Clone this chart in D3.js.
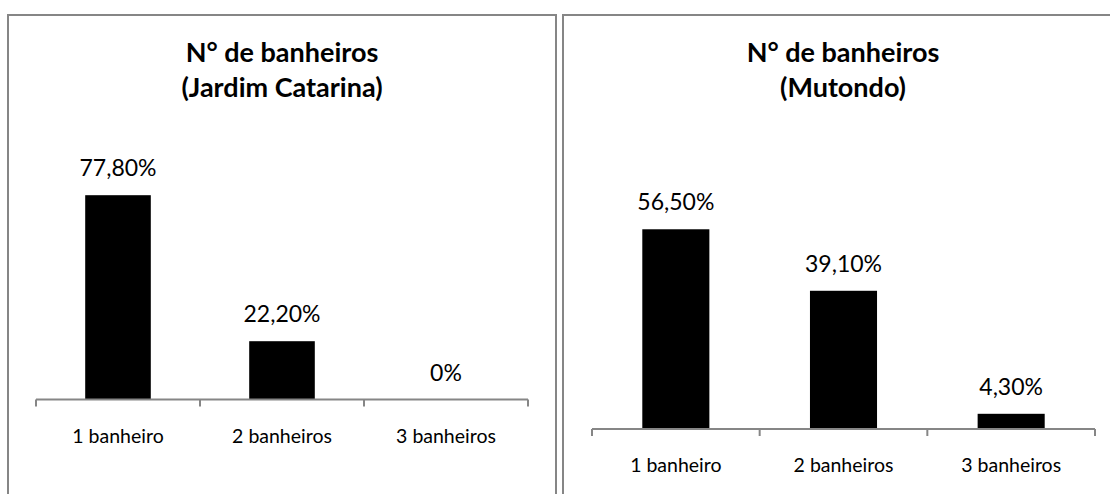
<!DOCTYPE html>
<html>
<head>
<meta charset="utf-8">
<script src="https://cdn.jsdelivr.net/npm/d3@7"></script>
<style>
  html, body { margin: 0; padding: 0; background: white; }
  svg { display: block; }
</style>
</head>
<body>
<div id="chart"></div>
<script>
// data
var categories = [ "1 banheiro", "2 banheiros", "3 banheiros" ];
var jardimValues = [ 77.8, 22.2, 0 ];
var mutondoValues = [ 56.5, 39.1, 4.3 ];
var jardimTitle = [ "N° de banheiros", "(Jardim Catarina)" ];
var mutondoTitle = [ "N° de banheiros", "(Mutondo)" ];

var W = 1110;
var H = 494;
var FONT = "Lato, 'Open Sans', sans-serif";
var AXIS_COLOR = "#868686";
var BORDER_COLOR = "#868686";

var ptLocale = d3.formatLocale({
  "decimal": ",",
  "thousands": ".",
  "grouping": [3],
  "currency": ["R$", ""],
});
var fmt2 = ptLocale.format(".2f");
function pctLabel(v) {
  return v === 0 ? "0%" : fmt2(v) + "%";
} // pctLabel

var svg = d3.select("#chart").append("svg")
  .attr("width", W)
  .attr("height", H);

var panels = [
  {
    "title": jardimTitle,
    "values": jardimValues,
    "box": [ 8, 15, 548, 520 ],
    "axisX": [ 36, 528 ],
    "axisY": 399.5,
    "full": 262.6, // height of 100%
  },
  {
    "title": mutondoTitle,
    "values": mutondoValues,
    "box": [ 563, 15, 560, 520 ],
    "axisX": [ 592, 1095 ],
    "axisY": 429,
    "full": 353.5,
  },
];

function addPanel(p) {
  var g = svg.append("g");
  var bx = p.box[0], by = p.box[1], bw = p.box[2], bh = p.box[3];

  g.append("rect").attr("x", bx).attr("y", by)
    .attr("width", bw).attr("height", bh)
    .attr("fill", "white")
    .attr("stroke", BORDER_COLOR)
    .attr("stroke-width", 2);

  var cx = bx + bw / 2;
  g.append("text")
    .attr("x", cx)
    .attr("y", 62)
    .attr("text-anchor", "middle")
    .attr("font-family", FONT)
    .attr("font-weight", "bold")
    .attr("font-size", "27px")
    .attr("fill", "#000")
    .selectAll("tspan")
    .data(p.title)
    .join("tspan")
    .attr("x", cx)
    .attr("dy", (d, i) => i === 0 ? 0 : 34.5)
    .text(d => d);

  var x = d3.scaleBand()
    .domain(categories)
    .range(p.axisX)
    .padding(0);
  var y = d3.scaleLinear()
    .domain([ 0, 100 ])
    .range([ p.axisY, p.axisY - p.full ]);

  var barW = x.bandwidth() * 0.4;
  var rows = categories.map((c, i) => ({ "cat": c, "v": p.values[i] }));

  g.selectAll("rect.bar")
    .data(rows)
    .join("rect")
    .attr("class", "bar")
    .attr("x", d => x(d.cat) + (x.bandwidth() - barW) / 2)
    .attr("y", d => y(d.v))
    .attr("width", barW)
    .attr("height", d => y(0) - y(d.v))
    .attr("fill", "#000");

  g.selectAll("text.val")
    .data(rows)
    .join("text")
    .attr("class", "val")
    .attr("x", d => x(d.cat) + x.bandwidth() / 2)
    .attr("y", d => y(d.v) - 19)
    .attr("text-anchor", "middle")
    .attr("font-family", FONT)
    .attr("font-size", "23px")
    .attr("fill", "#000")
    .text(d => pctLabel(d.v));

  // category axis, ticks between the bands
  var axis = g.append("g")
    .attr("transform", "translate(0," + p.axisY + ")")
    .call(d3.axisBottom(x).tickSize(0).tickPadding(43).tickSizeOuter(0));
  axis.select(".domain").remove();
  axis.selectAll("text")
    .attr("font-family", FONT)
    .attr("font-size", "19.5px")
    .attr("fill", "#000")
    .attr("dy", 0);
  axis.append("line")
    .attr("x1", p.axisX[0]).attr("x2", p.axisX[1])
    .attr("y1", 0).attr("y2", 0)
    .attr("stroke", AXIS_COLOR)
    .attr("stroke-width", 2);
  var bounds = categories.map(c => x(c)).concat([ p.axisX[1] ]);
  axis.selectAll("line.tick-mark")
    .data(bounds)
    .join("line")
    .attr("class", "tick-mark")
    .attr("x1", d => d).attr("x2", d => d)
    .attr("y1", 0).attr("y2", 7)
    .attr("stroke", AXIS_COLOR)
    .attr("stroke-width", 2);
} // addPanel

panels.forEach(addPanel);
</script>
</body>
</html>
